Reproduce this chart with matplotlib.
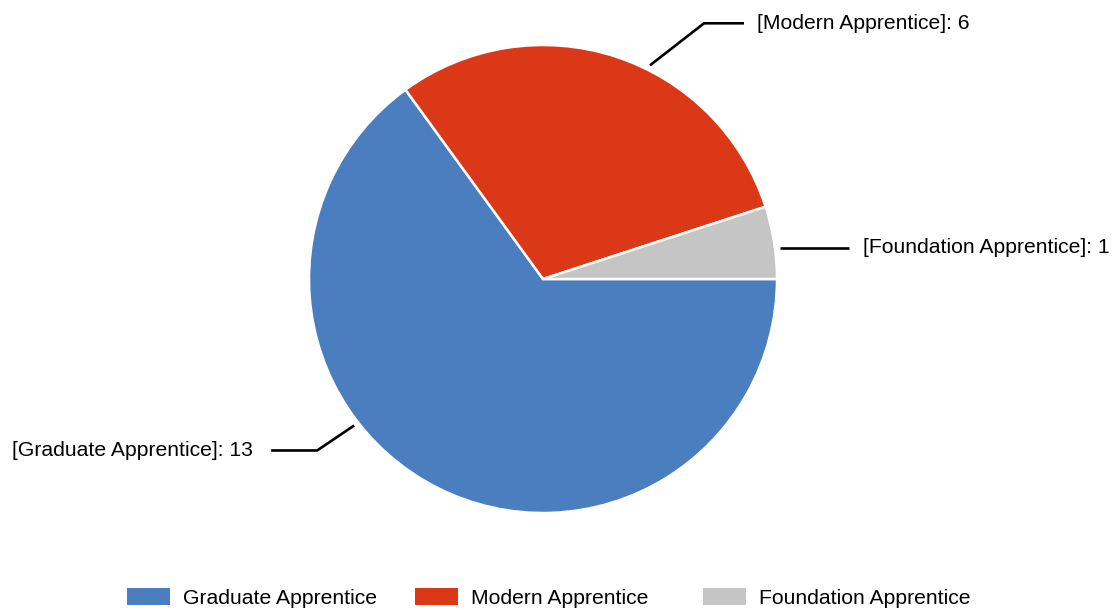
import numpy as np
import matplotlib.pyplot as plt
from matplotlib.patches import Patch

plt.rcParams['font.family'] = ['Liberation Sans', 'DejaVu Sans']

# Data
categories = ['Graduate Apprentice', 'Modern Apprentice', 'Foundation Apprentice']
counts = [13, 6, 1]
colors = ['#4A7EBF', '#DB3817', '#C5C5C5']

# label placement (style): anchor angle in wedge, elbow offset, line length, text gap
anchor_angle = [217.8, 63.4, 7.5]
elbow = [(-37, -25), (54, 42), (0, 0)]
line_len = [46, 40, 69]
text_gap = [18, 13, 14]

fig = plt.figure(figsize=(11.16, 6.10), dpi=100)
ax = fig.add_axes([0, 0, 1, 1])

cx, cy, r = 543, 331, 234
wedges, _ = ax.pie(counts, colors=colors, startangle=0, counterclock=False,
                   center=(cx, cy), radius=r, frame=True,
                   wedgeprops=dict(edgecolor='white', linewidth=1.8))
ax.set_xlim(0, 1116)
ax.set_ylim(0, 610)
ax.set_aspect('equal')
ax.axis('off')

# leader lines and labels
for i, (name, val) in enumerate(zip(categories, counts)):
    a = np.deg2rad(anchor_angle[i])
    x0 = cx + (r + 5) * np.cos(a)
    y0 = cy + (r + 5) * np.sin(a)
    x1, y1 = x0 + elbow[i][0], y0 + elbow[i][1]
    side = 1 if np.cos(a) > 0 else -1
    x2 = x1 + side * line_len[i]
    ax.plot([x0, x1, x2], [y0, y1, y1], color='black', lw=1.9,
            solid_capstyle='butt', solid_joinstyle='miter')
    ax.text(x2 + side * text_gap[i], y1, f'[{name}]: {val}', fontsize=15.2,
            ha='left' if side > 0 else 'right', va='center')

# legend: equal-width columns, one legend per entry
col_left = 127
col_width = 288
for i, (name, c) in enumerate(zip(categories, colors)):
    leg = fig.legend([Patch(facecolor=c, edgecolor='none')], [name],
                     loc='center left',
                     bbox_to_anchor=((col_left + i * col_width) / 1116, 1 - 598 / 610),
                     bbox_transform=fig.transFigure, frameon=False, fontsize=15.2,
                     handlelength=2.04, handleheight=0.85, handletextpad=0.62,
                     borderpad=0, borderaxespad=0)

fig.savefig('out.png', dpi=100)
